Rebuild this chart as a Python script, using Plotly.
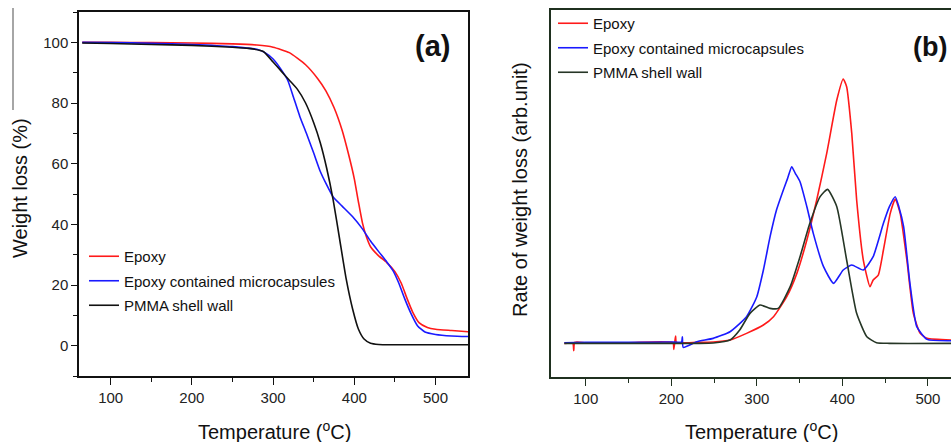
import plotly.graph_objects as go

# ---------- Panel (a): TGA weight loss ----------
temp_a_red = [65, 100, 150, 200, 250, 280, 300, 320, 340, 355, 365, 375, 385, 393, 400, 405, 410, 415, 420, 430, 440, 450, 458, 465, 472, 480, 490, 500, 520, 540]
wl_red = [100, 100, 99.9, 99.8, 99.5, 99.1, 98.4, 96.6, 92.6, 88, 84, 78.5, 71, 63, 55, 47.5, 40.5, 35.8, 32.6, 29.6, 27.4, 24.4, 20.5, 15.5, 11, 7.5, 6, 5.4, 5.0, 4.6]

temp_a_blue = [65, 100, 150, 200, 250, 280, 290, 300, 310, 318, 325, 333, 341, 350, 358, 366, 374, 385, 398, 410, 420, 430, 440, 448, 455, 462, 470, 478, 487, 500, 520, 540]
wl_blue = [100, 99.9, 99.7, 99.3, 98.6, 97.7, 96.6, 94.5, 91, 87.5, 82, 75.5, 70, 63.5, 57.5, 53, 49, 46, 42.5, 38.5, 34.5, 31, 27.6, 24.6, 20.5, 15.5, 10.5, 6.5, 4.5, 3.7, 3.2, 3.0]

temp_a_black = [65, 100, 150, 200, 250, 270, 288, 300, 310, 320, 330, 340, 350, 358, 366, 374, 382, 390, 398, 405, 412, 420, 430, 445, 540]
wl_black = [99.8, 99.6, 99.3, 99.0, 98.4, 98.0, 97, 93.5, 90.5, 87.5, 84.5, 80, 73.5, 67, 58.5, 48, 35, 22, 12, 5.5, 2.2, 0.8, 0.4, 0.3, 0.3]

# ---------- Panel (b): DTG rate of weight loss ----------
temp_b_red = [75, 85, 86, 87, 100, 150, 202, 203, 205, 206, 230, 249, 268.7, 288, 307.7, 319.5, 335, 346.8, 358.5, 370, 381.7, 393.5, 401, 405, 411, 416.7, 424.5, 432.3, 436, 442, 448, 456, 461.8, 467.6, 475.4, 483, 491, 499, 527]
rate_red = [0, 0, -2.2, 0.3, 0.2, 0.2, 0.2, -1.8, 2.2, 0.3, 0.3, 0.4, 1, 3, 5.5, 8, 14, 21, 31, 43, 57, 73, 79.3, 77, 63, 43, 25, 17, 19, 20.5, 28, 39, 43.3, 39, 25, 9, 3, 1.5, 1.0]

temp_b_blue = [75, 100, 150, 200, 212, 213, 214, 229.8, 249, 268.7, 288, 300, 307.7, 315.5, 323, 331, 336, 340.8, 345, 350.5, 358.5, 366, 378, 389.7, 401, 411, 424.5, 436, 448, 455, 461.8, 466, 471.6, 479, 487, 499, 527]
rate_blue = [0.2, 0.3, 0.3, 0.4, 0.4, 2.0, -1.2, 0.5, 1.5, 3.5, 8, 14, 22, 32, 40, 46, 49.5, 53, 51, 48.5, 41, 33, 23, 18, 22, 23.5, 22, 26, 36, 41, 44, 41, 35, 18, 5, 1.2, 0.8]

temp_b_black = [75, 150, 230, 249, 268.7, 280, 292, 303.8, 315.5, 325, 339, 350.5, 362, 374, 382.7, 393.5, 405, 416.7, 428.6, 440, 455, 527]
rate_black = [0, 0, 0, 0.1, 1, 4, 9, 11.5, 10.5, 10.5, 17, 26, 36, 44, 46.2, 41, 25, 9, 2, 0.2, 0, 0]

names = ["Epoxy", "Epoxy contained microcapsules", "PMMA shell wall"]
x_ticks = [100, 200, 300, 400, 500]
y_ticks_a = [0, 20, 40, 60, 80, 100]

RED = "#ff1a1a"
BLUE = "#1a1aff"
BLACK_A = "#111111"
BLACK_B = "#263626"
FRAME_B = "#1f301f"
FONT = "Arial, Liberation Sans, sans-serif"

fig = go.Figure()

for xs, ys, nm, col, g in [
    (temp_a_red, wl_red, names[0], RED, "a1"),
    (temp_a_blue, wl_blue, names[1], BLUE, "a2"),
    (temp_a_black, wl_black, names[2], BLACK_A, "a3"),
]:
    fig.add_trace(go.Scatter(x=xs, y=ys, mode="lines", name=nm, legendgroup=g,
                             line=dict(color=col, width=1.6, shape="spline", smoothing=0.5),
                             xaxis="x", yaxis="y", legend="legend"))

for xs, ys, nm, col, g in [
    (temp_b_red, rate_red, names[0], RED, "b1"),
    (temp_b_blue, rate_blue, names[1], BLUE, "b2"),
    (temp_b_black, rate_black, names[2], BLACK_B, "b3"),
]:
    fig.add_trace(go.Scatter(x=xs, y=ys, mode="lines", name=nm, legendgroup=g,
                             line=dict(color=col, width=1.6, shape="spline", smoothing=0.5),
                             xaxis="x2", yaxis="y2", legend="legend2"))

W, H = 951, 442
def px_x(p):
    return p / W
def px_y(p):
    return 1 - p / H

axis_common = dict(showgrid=False, zeroline=False, showline=True, ticks="outside",
                   tickfont=dict(family=FONT, size=15, color="#222"))

fig.update_layout(
    width=W, height=H,
    margin=dict(l=0, r=0, t=0, b=0),
    paper_bgcolor="white", plot_bgcolor="white",
    showlegend=True,
    xaxis=dict(domain=[px_x(79), px_x(468)], range=[61, 540], anchor="y",
               tickvals=x_ticks, mirror=True, linecolor="#111", linewidth=1.5,
               ticklen=7, tickwidth=1.3, tickcolor="#111",
               minor=dict(ticks="outside", tickvals=[150, 250, 350, 450], ticklen=4, tickcolor="#111", tickwidth=1.3),
               **axis_common),
    yaxis=dict(domain=[px_y(376), px_y(12)], range=[-10, 110], anchor="x",
               tickvals=y_ticks_a, mirror=True, linecolor="#111", linewidth=1.5,
               ticklen=6, tickwidth=1.3, tickcolor="#111",
               minor=dict(ticks="outside", tickvals=[-10, 10, 30, 50, 70, 90, 110], ticklen=4, tickcolor="#111", tickwidth=1.3),
               **axis_common),
    xaxis2=dict(domain=[px_x(551), 1.0], range=[59.4, 527], anchor="y2",
                tickvals=x_ticks, mirror=True, linecolor=FRAME_B, linewidth=2,
                ticklen=7, tickwidth=1.3, tickcolor=FRAME_B,
                minor=dict(ticks="outside", tickvals=[150, 250, 350, 450], ticklen=4, tickcolor=FRAME_B, tickwidth=1.3),
                **axis_common),
    yaxis2=dict(domain=[px_y(376.7), px_y(10)], range=[-10, 100], anchor="x2",
                showgrid=False, zeroline=False, showline=True, linecolor=FRAME_B, linewidth=2,
                showticklabels=False, ticks=""),
    legend=dict(x=px_x(84), y=px_y(240), xanchor="left", yanchor="top",
                bgcolor="rgba(0,0,0,0)", tracegroupgap=2,
                font=dict(family=FONT, size=15, color="#111")),
    legend2=dict(x=px_x(553), y=px_y(7), xanchor="left", yanchor="top",
                 bgcolor="rgba(0,0,0,0)", tracegroupgap=2,
                 font=dict(family=FONT, size=15, color="#111")),
)

ann = [
    dict(text="<b>(a)</b>", x=px_x(432), y=px_y(46), xref="paper", yref="paper",
         showarrow=False, font=dict(family=FONT, size=29, color="#111"), xanchor="center", yanchor="middle"),
    dict(text="<b>(b)</b>", x=px_x(930), y=px_y(47), xref="paper", yref="paper",
         showarrow=False, font=dict(family=FONT, size=27, color="#111"), xanchor="center", yanchor="middle"),
    dict(text="Temperature (<sup>o</sup>C)", x=px_x(274), y=px_y(430), xref="paper", yref="paper",
         showarrow=False, font=dict(family=FONT, size=20, color="#111"), xanchor="center", yanchor="middle"),
    dict(text="Temperature (<sup>o</sup>C)", x=px_x(761), y=px_y(430), xref="paper", yref="paper",
         showarrow=False, font=dict(family=FONT, size=20, color="#111"), xanchor="center", yanchor="middle"),
    dict(text="Weight loss (%)", x=px_x(20), y=px_y(188), xref="paper", yref="paper", textangle=-90,
         showarrow=False, font=dict(family=FONT, size=20, color="#111"), xanchor="center", yanchor="middle"),
    dict(text="Rate of weight loss (arb.unit)", x=px_x(520), y=px_y(190), xref="paper", yref="paper", textangle=-90,
         showarrow=False, font=dict(family=FONT, size=20, color="#111"), xanchor="center", yanchor="middle"),
]
fig.update_layout(annotations=ann)

fig.add_shape(type="line", xref="paper", yref="paper", x0=px_x(13), x1=px_x(13), y0=px_y(8), y1=px_y(110),
              line=dict(color="#888", width=1.5))

fig.write_html("out.html")
